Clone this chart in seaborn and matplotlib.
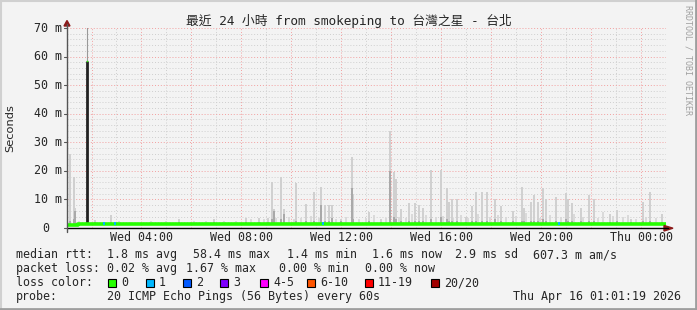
import matplotlib
matplotlib.use("Agg")
import matplotlib.pyplot as plt
import seaborn as sns
import pandas as pd
from matplotlib.lines import Line2D
from matplotlib.patches import Rectangle, Polygon

# ---------------- data ----------------
title = "最近 24 小時 from smokeping to 台灣之星 - 台北"
t_start, t_end = 1.0167, 25.0167          # hours since Wed 00:00
xtick_hours = [4, 8, 12, 16, 20, 24]
xtick_labels = ["Wed 04:00", "Wed 08:00", "Wed 12:00", "Wed 16:00", "Wed 20:00", "Thu 00:00"]
ytick_vals = [0, 10, 20, 30, 40, 50, 60, 70]
ytick_labels = ["0", "10 m", "20 m", "30 m", "40 m", "50 m", "60 m", "70 m"]

# smoke spikes (ms): time, max ping, dense part
smoke_t = [1.12, 1.28, 1.34, 2.12, 2.76, 5.52, 6.92, 8.2, 8.72, 9.08, 9.24, 9.32, 9.6, 9.72,
           10.2, 10.6, 10.92, 11.2, 11.36, 11.52, 11.64, 12.0, 12.44, 12.48, 13.12, 13.6,
           13.96, 14.12, 14.2, 14.4, 14.72, 14.96, 15.12, 15.28, 15.6, 16.0, 16.24, 16.32,
           16.44, 16.64, 17.0, 17.24, 17.4, 17.64, 17.84, 18.16, 18.4, 18.88, 19.24, 19.32,
           19.6, 19.72, 19.88, 20.08, 20.2, 20.6, 21.0, 21.08, 21.24, 21.6, 21.92, 22.12,
           22.76, 23.04, 23.6, 24.08, 24.36, 24.84]
smoke_max = [26, 18, 7, 2.8, 4.5, 3, 3, 3.5, 3.5, 3.5, 16, 6.7, 18, 6.6,
             15.6, 8.5, 12.7, 14.5, 8.2, 8, 8, 3, 25, 12, 5.7, 3,
             34, 19.7, 17, 6.7, 8.7, 8.7, 8, 7, 20.3, 20.3, 14, 9,
             10, 10, 4, 7.6, 12.6, 12.6, 12.6, 10, 7.6, 6, 14.3, 7,
             9, 11.5, 9, 14, 10, 11, 12.2, 10.3, 8.7, 6.9, 11.6, 10,
             5, 6.3, 3, 9.2, 12.7, 5]
smoke_dark = [2.5, 3, 6, 2, 2, 2, 2, 2, 2, 2, 3, 6, 3, 5,
              2.5, 2.5, 2.5, 8, 2.5, 2.5, 3.5, 2.5, 14, 3, 2.5, 2,
              20, 4, 3, 2.5, 2.5, 2.5, 2.5, 2.5, 3, 4, 3, 2.5,
              2.5, 2.5, 2.2, 2.5, 2.5, 2.5, 2.5, 3, 2.5, 2.5, 2.5, 2.5,
              2.5, 2.5, 2.5, 3, 2.5, 2.5, 3, 2.5, 2.5, 2.5, 2.5, 2.5,
              2.2, 2.5, 2, 2.5, 2.5, 2.2]
small_t = [1.5, 2.2, 3.1, 3.6, 4.4, 5.0, 6.1, 6.6, 7.3, 7.8, 8.4, 8.9, 9.4, 9.9, 10.1, 10.4,
           10.8, 11.1, 11.8, 12.2, 12.7, 13.0, 13.3, 13.8, 14.3, 14.6, 14.85, 15.4, 15.8, 16.1,
           16.5, 16.8, 17.1, 17.5, 17.95, 18.3, 18.6, 19.0, 19.4, 19.95, 20.35, 20.8, 21.35,
           21.7, 22.3, 22.5, 22.9, 23.3, 23.5, 23.8, 24.2, 24.6]
small_h = [2.3, 2.2, 2.4, 2.2, 2.3, 2.5, 2.4, 2.3, 2.6, 2.4, 3.0, 3.2, 3.5, 4.0, 3.2, 3.6,
           4.2, 3.5, 3.0, 3.8, 3.2, 3.4, 4.5, 3.6, 4.0, 3.5, 5.0, 4.4, 3.8, 4.2,
           3.6, 4.6, 3.5, 4.8, 3.9, 4.5, 3.7, 4.2, 5.2, 3.6, 4.4, 3.8, 4.9,
           4.0, 3.6, 5.5, 4.2, 3.8, 4.6, 3.2, 3.9, 3.4]
spike_t, spike_median, spike_top = 1.80, 58.4, 72
median_t = [t_start, 1.45, 1.46, 25.0167]
median_v = [1.2, 1.2, 1.5, 1.5]
loss1_t = [2.48, 2.92, 11.27, 20.72]

stats1 = [("median rtt:", 16), ("1.8 ms avg", 107), ("58.4 ms max", 193), ("1.4 ms min", 287),
          ("1.6 ms now", 372), ("2.9 ms sd", 455), ("607.3 m am/s", 533)]
stats2 = [("packet loss:", 16), ("0.02 % avg", 107), ("1.67 % max", 186), ("0.00 % min", 279),
          ("0.00 % now", 365)]
loss_labels = ["0", "1", "2", "3", "4-5", "6-10", "11-19", "20/20"]
loss_colors = ["#26ff00", "#00b8ff", "#0059ff", "#7e00ff", "#ff00ff", "#ff5500", "#ff0000", "#a10000"]
loss_x = [108, 146, 183, 220, 260, 307, 365, 431]
probe_text = "20 ICMP Echo Pings (56 Bytes) every 60s"
date_text = "Thu Apr 16 01:01:19 2026"

# ---------------- style ----------------
W, H = 697, 310
sns.set_style("white")
MONO = ["DejaVu Sans Mono", "Noto Sans CJK TC"]
plt.rcParams["font.family"] = MONO
BG = "#f3f3f3"
FS = 8.4

fig = plt.figure(figsize=(W / 100, H / 100), dpi=100, facecolor=BG)
def fx(x): return x / W
def fy(y): return 1 - y / H

ax = fig.add_axes([fx(67), fy(228), 599 / W, 200 / H])
ax.set_facecolor(BG)
ax.set_xlim(t_start, t_end)
ax.set_ylim(0, 70)

# grid
for h in range(2, 26):
    if t_start < h < t_end:
        major = (h % 2 == 0)
        ax.axvline(h, color="#f2a0a0" if major else "#cfcfcf", lw=0.7,
                   ls=(0, (1, 2)), zorder=0)
for v in range(2, 71, 2):
    major = (v % 10 == 0)
    ax.axhline(v, color="#f2a0a0" if major else "#cfcfcf", lw=0.7,
               ls=(0, (1, 2)), zorder=0)

# smoke
ax.vlines(small_t, 1.4, small_h, color="#d8d8d8", lw=1.3, zorder=1)
ax.vlines(smoke_t, 1.4, smoke_max, color="#d0d0d0", lw=1.4, zorder=1)
ax.vlines(smoke_t, 1.4, smoke_dark, color="#a8a8a8", lw=1.4, zorder=2)
ax.vlines([spike_t], spike_median, spike_top, color="#999999", lw=0.8, zorder=2)
ax.vlines([spike_t], 1.4, spike_median, color="#222222", lw=2.0, zorder=3)

# median line
med = pd.DataFrame({"t": median_t, "v": median_v})
sns.lineplot(data=med, x="t", y="v", color="#26ff00", lw=2.6, ax=ax, zorder=4,
             drawstyle="steps-post", legend=False)
ax.plot([spike_t + 0.02], [spike_median], marker="s", ms=1.0, mew=0, color="#26ff00", zorder=5)
ax.vlines(loss1_t, 0.9, 2.1, color="#00b8ff", lw=1.4, zorder=5)

for s in ax.spines.values():
    s.set_visible(False)
ax.set_xticks([]); ax.set_yticks([])
ax.set_xlabel(""); ax.set_ylabel("")

# axes lines + arrows
fig.add_artist(Line2D([fx(67), fx(668)], [fy(228), fy(228)], color="#000000", lw=1.0))
fig.add_artist(Line2D([fx(67), fx(67)], [fy(232), fy(24)], color="#555555", lw=1.0))
fig.add_artist(Polygon([[fx(664), fy(225.5)], [fx(664), fy(231)], [fx(673), fy(228.2)]],
                       closed=True, color="#8b1a1a"))
fig.add_artist(Polygon([[fx(64), fy(26)], [fx(70), fy(26)], [fx(67), fy(20.5)]],
                       closed=True, color="#8b1a1a"))
for v, lab in zip(ytick_vals, ytick_labels):
    y = 228 - v * 200 / 70
    fig.add_artist(Line2D([fx(64), fx(67)], [fy(y), fy(y)], color="#555555", lw=0.8))
    if lab == "0":
        fig.text(fx(49), fy(y), lab, ha="right", va="center", fontsize=FS)
    else:
        fig.text(fx(62), fy(y), lab, ha="right", va="center", fontsize=FS)

for h, lab in zip(xtick_hours, xtick_labels):
    x = 67 + (h - t_start) * 25
    fig.text(fx(x), fy(237.5), lab, ha="center", va="center", fontsize=FS)

# titles
fig.text(fx(349), fy(21), title, ha="center", va="center", fontsize=9.2, family=MONO)
fig.text(fx(10), fy(128), "Seconds", rotation=90, ha="center", va="center",
         fontsize=8.2, family=["DejaVu Sans"])
fig.text(fx(688), fy(60), "RRDTOOL / TOBI OETIKER", rotation=270, ha="center", va="center",
         fontsize=6.0, color="#a0a0a0", family=["DejaVu Sans Mono"])

# legend lines
for txt, x in stats1:
    fig.text(fx(x), fy(254.5), txt, ha="left", va="center", fontsize=FS)
for txt, x in stats2:
    fig.text(fx(x), fy(268.5), txt, ha="left", va="center", fontsize=FS)
fig.text(fx(16), fy(282.5), "loss color:", ha="left", va="center", fontsize=FS)
for lab, c, x in zip(loss_labels, loss_colors, loss_x):
    fig.add_artist(Rectangle((fx(x), fy(286.5)), 8 / W, 8 / H, facecolor=c,
                             edgecolor="black", lw=0.8))
    fig.text(fx(x + 13), fy(282.5), lab, ha="left", va="center", fontsize=FS)
fig.text(fx(16), fy(296.5), "probe:", ha="left", va="center", fontsize=FS)
fig.text(fx(107), fy(296.5), probe_text, ha="left", va="center", fontsize=FS)
fig.text(fx(513), fy(296.5), date_text, ha="left", va="center", fontsize=FS)

# 3D frame
fig.add_artist(Line2D([0, 1], [fy(0.5), fy(0.5)], color="#d0d0d0", lw=1.5))
fig.add_artist(Line2D([fx(0.5), fx(0.5)], [0, 1], color="#d0d0d0", lw=1.5))
fig.add_artist(Line2D([0, 1], [fy(309), fy(309)], color="#9e9e9e", lw=2))
fig.add_artist(Line2D([fx(696), fx(696)], [0, 1], color="#9e9e9e", lw=2))

fig.savefig("out.png", dpi=100, facecolor=BG)
